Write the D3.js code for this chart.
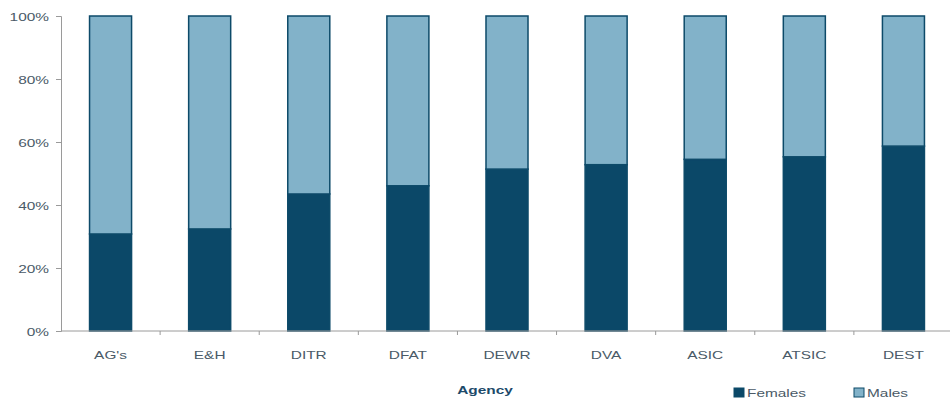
<!DOCTYPE html>
<html>
<head>
<meta charset="utf-8">
<script src="https://cdn.jsdelivr.net/npm/d3@7/dist/d3.min.js"></script>
<style>
  html, body { margin: 0; padding: 0; background: #fff; }
  svg { display: block; font-family: "Liberation Sans", Arial, sans-serif; }
</style>
</head>
<body>
<svg id="chart" width="950" height="403"></svg>
<script>
// Staff gender split by agency (percent of staff)
const agencies = ["AG's", "E&H", "DITR", "DFAT", "DEWR", "DVA", "ASIC", "ATSIC", "DEST"];
const females = [30.8, 32.4, 43.5, 46.1, 51.4, 52.8, 54.5, 55.3, 58.7];
const males = females.map(f => 100 - f);
const yTicks = [0, 20, 40, 60, 80, 100];
const seriesNames = ["Females", "Males"];

const colors = { Females: "#0b4868", Males: "#82b2c9" };
const outline = "#0d4a69";
const textColor = "#4a5a67";
const stretch = 1.4; // wide lettering

const svg = d3.select("#chart");

const x = d3.scaleBand()
  .domain(agencies)
  .range([61, 953])
  .paddingInner(0.576)
  .paddingOuter(0.288);

const y = d3.scaleLinear().domain([0, 100]).range([331, 16]);

// Stacked layout: Females at the bottom, Males on top
const rows = agencies.map((a, i) => ({ agency: a, Females: females[i], Males: males[i] }));
const stack = d3.stack().keys(seriesNames)(rows);

svg.append("g")
  .selectAll("g")
  .data(stack)
  .join("g")
  .attr("fill", d => colors[d.key])
  .selectAll("rect")
  .data(d => d)
  .join("rect")
  .attr("x", d => x(d.data.agency))
  .attr("width", x.bandwidth())
  .attr("y", d => y(d[1]))
  .attr("height", d => y(d[0]) - y(d[1]))
  .attr("stroke", outline)
  .attr("stroke-width", 1.5);

// Places a horizontally stretched text label at (px, py)
function wideText(sel, px, py) {
  return sel.attr("transform", `translate(${px},${py}) scale(${stretch},1)`)
    .attr("x", 0).attr("y", 0);
}

// Y axis
const yAxis = svg.append("g")
  .attr("transform", "translate(61,0)")
  .call(d3.axisLeft(y).tickValues(yTicks).tickFormat(d => d + "%").tickSize(5).tickPadding(6));
yAxis.select(".domain").attr("stroke", "#9a9a9a");
yAxis.selectAll(".tick line").attr("stroke", "#9a9a9a");
yAxis.selectAll(".tick text")
  .attr("fill", textColor).attr("font-size", 11)
  .attr("font-family", "Liberation Sans, Arial, sans-serif")
  .attr("dy", null)
  .each(function () { wideText(d3.select(this), -12, 4); });

// X axis with ticks between categories
const xAxisG = svg.append("g").attr("transform", "translate(0,331)");
xAxisG.append("line")
  .attr("x1", 61).attr("x2", 950)
  .attr("stroke", "#9a9a9a");
const step = x.step();
xAxisG.selectAll("line.sep")
  .data(agencies.slice(1))
  .join("line")
  .attr("class", "sep")
  .attr("x1", d => x(d) - (step - x.bandwidth()) / 2)
  .attr("x2", d => x(d) - (step - x.bandwidth()) / 2)
  .attr("y1", 0).attr("y2", 4)
  .attr("stroke", "#9a9a9a");
xAxisG.selectAll("text")
  .data(agencies)
  .join("text")
  .attr("text-anchor", "middle")
  .attr("fill", textColor)
  .attr("font-size", 11)
  .text(d => d)
  .each(function (d) { wideText(d3.select(this), x(d) + x.bandwidth() / 2, 28); });

// Axis title
wideText(svg.append("text"), 485, 394)
  .attr("text-anchor", "middle")
  .attr("fill", "#1d4a6a")
  .attr("font-size", 11)
  .attr("font-weight", "bold")
  .text("Agency");

// Legend
const legend = svg.append("g").attr("transform", "translate(734,388)");
const legendX = { Females: 0, Males: 120 };
seriesNames.forEach(name => {
  const g = legend.append("g").attr("transform", `translate(${legendX[name]},0)`);
  g.append("rect").attr("width", 10).attr("height", 9)
    .attr("fill", colors[name]).attr("stroke", outline).attr("stroke-width", 1);
  wideText(g.append("text"), 13, 9)
    .attr("fill", textColor).attr("font-size", 11).text(name);
});
</script>
</body>
</html>
